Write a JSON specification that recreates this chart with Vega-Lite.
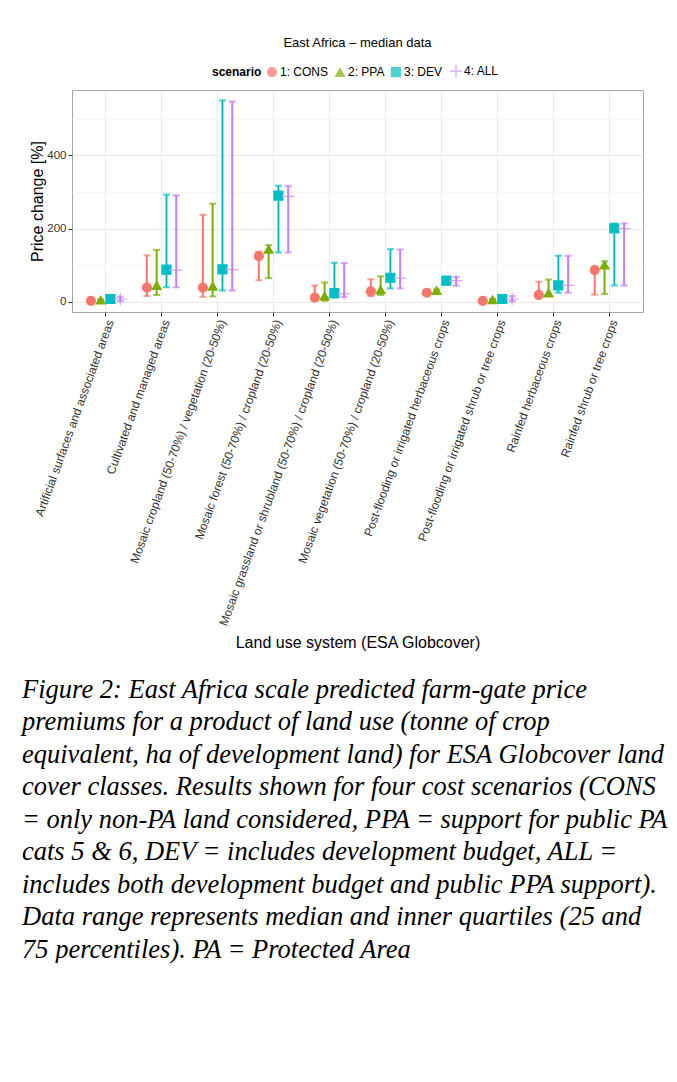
{
  "$schema": "https://vega.github.io/schema/vega-lite/v6.json",
  "padding": {"left": 22, "top": 36, "right": 0, "bottom": 0},
  "background": "white",
  "config": {
    "font": "Liberation Sans",
    "view": {"stroke": "#a6a6a6", "strokeWidth": 1}
  },
  "title": {
    "text": [
      "Figure 2: East Africa scale predicted farm-gate price",
      "premiums for a product of land use (tonne of crop",
      "equivalent, ha of development land) for ESA Globcover land",
      "cover classes. Results shown for four cost scenarios (CONS",
      "= only non-PA land considered, PPA = support for public PA",
      "cats 5 & 6, DEV = includes development budget, ALL =",
      "includes both development budget and public PPA support).",
      "Data range represents median and inner quartiles (25 and",
      "75 percentiles). PA = Protected Area"
    ],
    "orient": "bottom",
    "anchor": "start",
    "frame": "group",
    "font": "Liberation Serif",
    "fontStyle": "italic",
    "fontWeight": "normal",
    "fontSize": 26.5,
    "lineHeight": 32.5,
    "color": "#000000",
    "offset": 26,
    "dx": -50
  },
  "vconcat": [
    {
      "width": 571,
      "height": 222,
      "title": {
        "text": "East Africa – median data",
        "fontSize": 13,
        "fontWeight": "normal",
        "color": "#000000",
        "offset": 40
      },
      "data": {
        "values": [
          {"landuse": "Artificial surfaces and associated areas", "scenario": "1: CONS", "median": 3, "lo": 1, "hi": 5},
          {"landuse": "Artificial surfaces and associated areas", "scenario": "2: PPA", "median": 5, "lo": 2, "hi": 7},
          {"landuse": "Artificial surfaces and associated areas", "scenario": "3: DEV", "median": 8, "lo": 4, "hi": 12},
          {"landuse": "Artificial surfaces and associated areas", "scenario": "4: ALL", "median": 8, "lo": 2, "hi": 14},
          {"landuse": "Cultivated and managed areas", "scenario": "1: CONS", "median": 39, "lo": 16, "hi": 127},
          {"landuse": "Cultivated and managed areas", "scenario": "2: PPA", "median": 45, "lo": 19, "hi": 142},
          {"landuse": "Cultivated and managed areas", "scenario": "3: DEV", "median": 88, "lo": 40, "hi": 293},
          {"landuse": "Cultivated and managed areas", "scenario": "4: ALL", "median": 87, "lo": 40, "hi": 291},
          {"landuse": "Mosaic cropland (50-70%) / vegetation (20-50%)", "scenario": "1: CONS", "median": 39, "lo": 14, "hi": 238},
          {"landuse": "Mosaic cropland (50-70%) / vegetation (20-50%)", "scenario": "2: PPA", "median": 43, "lo": 15, "hi": 268},
          {"landuse": "Mosaic cropland (50-70%) / vegetation (20-50%)", "scenario": "3: DEV", "median": 89, "lo": 31, "hi": 550},
          {"landuse": "Mosaic cropland (50-70%) / vegetation (20-50%)", "scenario": "4: ALL", "median": 88, "lo": 31, "hi": 547},
          {"landuse": "Mosaic forest (50-70%) / cropland (20-50%)", "scenario": "1: CONS", "median": 125, "lo": 59, "hi": 137},
          {"landuse": "Mosaic forest (50-70%) / cropland (20-50%)", "scenario": "2: PPA", "median": 144, "lo": 65, "hi": 155},
          {"landuse": "Mosaic forest (50-70%) / cropland (20-50%)", "scenario": "3: DEV", "median": 290, "lo": 135, "hi": 317},
          {"landuse": "Mosaic forest (50-70%) / cropland (20-50%)", "scenario": "4: ALL", "median": 288, "lo": 135, "hi": 316},
          {"landuse": "Mosaic grassland or shrubland (50-70%) / cropland (20-50%)", "scenario": "1: CONS", "median": 12, "lo": 3, "hi": 45},
          {"landuse": "Mosaic grassland or shrubland (50-70%) / cropland (20-50%)", "scenario": "2: PPA", "median": 16, "lo": 3, "hi": 53},
          {"landuse": "Mosaic grassland or shrubland (50-70%) / cropland (20-50%)", "scenario": "3: DEV", "median": 24, "lo": 12, "hi": 107},
          {"landuse": "Mosaic grassland or shrubland (50-70%) / cropland (20-50%)", "scenario": "4: ALL", "median": 22, "lo": 14, "hi": 106},
          {"landuse": "Mosaic vegetation (50-70%) / cropland (20-50%)", "scenario": "1: CONS", "median": 29, "lo": 16, "hi": 62},
          {"landuse": "Mosaic vegetation (50-70%) / cropland (20-50%)", "scenario": "2: PPA", "median": 33, "lo": 19, "hi": 70},
          {"landuse": "Mosaic vegetation (50-70%) / cropland (20-50%)", "scenario": "3: DEV", "median": 66, "lo": 37, "hi": 144},
          {"landuse": "Mosaic vegetation (50-70%) / cropland (20-50%)", "scenario": "4: ALL", "median": 65, "lo": 37, "hi": 143},
          {"landuse": "Post-flooding or irrigated herbaceous crops", "scenario": "1: CONS", "median": 25, "lo": 22, "hi": 28},
          {"landuse": "Post-flooding or irrigated herbaceous crops", "scenario": "2: PPA", "median": 31, "lo": 28, "hi": 34},
          {"landuse": "Post-flooding or irrigated herbaceous crops", "scenario": "3: DEV", "median": 58, "lo": 48, "hi": 66},
          {"landuse": "Post-flooding or irrigated herbaceous crops", "scenario": "4: ALL", "median": 58, "lo": 44, "hi": 68},
          {"landuse": "Post-flooding or irrigated shrub or tree crops", "scenario": "1: CONS", "median": 3, "lo": 1, "hi": 5},
          {"landuse": "Post-flooding or irrigated shrub or tree crops", "scenario": "2: PPA", "median": 6, "lo": 3, "hi": 8},
          {"landuse": "Post-flooding or irrigated shrub or tree crops", "scenario": "3: DEV", "median": 8, "lo": 5, "hi": 11},
          {"landuse": "Post-flooding or irrigated shrub or tree crops", "scenario": "4: ALL", "median": 8, "lo": 2, "hi": 16},
          {"landuse": "Rainfed herbaceous crops", "scenario": "1: CONS", "median": 19, "lo": 10, "hi": 55},
          {"landuse": "Rainfed herbaceous crops", "scenario": "2: PPA", "median": 25, "lo": 15, "hi": 61},
          {"landuse": "Rainfed herbaceous crops", "scenario": "3: DEV", "median": 45, "lo": 25, "hi": 126},
          {"landuse": "Rainfed herbaceous crops", "scenario": "4: ALL", "median": 45, "lo": 25, "hi": 126},
          {"landuse": "Rainfed shrub or tree crops", "scenario": "1: CONS", "median": 87, "lo": 20, "hi": 90},
          {"landuse": "Rainfed shrub or tree crops", "scenario": "2: PPA", "median": 101, "lo": 22, "hi": 111},
          {"landuse": "Rainfed shrub or tree crops", "scenario": "3: DEV", "median": 201, "lo": 45, "hi": 214},
          {"landuse": "Rainfed shrub or tree crops", "scenario": "4: ALL", "median": 200, "lo": 45, "hi": 214}
        ]
      },
      "encoding": {
        "x": {
          "field": "landuse",
          "type": "nominal",
          "sort": null,
          "title": "Land use system (ESA Globcover)",
          "scale": {"paddingInner": 0.3, "paddingOuter": 0.25},
          "axis": {
            "domain": false,
            "labelAngle": -70,
            "labelAlign": "right",
            "labelBaseline": "top",
            "labelFontSize": 12,
            "labelColor": "#333333",
            "labelLimit": 500,
            "labelPadding": 2,
            "tickSize": 4,
            "tickColor": "#333333",
            "grid": true,
            "gridColor": "#ebebeb",
            "bandPosition": 0.5,
            "titleFontSize": 16,
            "titleFontWeight": "normal",
            "titleColor": "#000000",
            "titleBaseline": "middle",
            "titleY": 330
          }
        },
        "xOffset": {"field": "scenario", "type": "nominal", "scale": {"paddingInner": 0, "paddingOuter": 0}}
      },
      "resolve": {"axis": {"y": "independent"}},
      "layer": [
        {
          "mark": {"type": "point", "filled": true, "opacity": 1, "size": 81, "strokeWidth": 1.2},
          "encoding": {
            "y": {"field": "median", "type": "quantitative", "axis": null,
              "scale": {"domain": [-27.5, 578.5], "nice": false, "zero": false}},
            "color": {
              "field": "scenario",
              "type": "nominal",
              "title": "scenario",
              "scale": {"domain": ["1: CONS", "2: PPA", "3: DEV", "4: ALL"], "range": ["#F8766D", "#7CAE00", "#00BFC4", "#C77CFF"]},
              "legend": {
                "orient": "none",
                "legendX": 140,
                "legendY": -25,
                "direction": "horizontal",
                "titleOrient": "left",
                "titleFontSize": 12,
                "titleFontWeight": "bold",
                "titleColor": "#000000",
                "titlePadding": 4,
                "labelFontSize": 12,
                "labelColor": "#000000",
                "labelOffset": 2,
                "symbolSize": 81,
                "symbolStrokeWidth": 1.2,
                "symbolOpacity": 1,
                "columnPadding": 4
              }
            },
            "stroke": {
              "field": "scenario",
              "type": "nominal",
              "title": "scenario",
              "scale": {"domain": ["1: CONS", "2: PPA", "3: DEV", "4: ALL"], "range": ["#F8766D", "#7CAE00", "#00BFC4", "#D6A6FF"]}
            },
            "shape": {
              "field": "scenario",
              "type": "nominal",
              "title": "scenario",
              "scale": {"domain": ["1: CONS", "2: PPA", "3: DEV", "4: ALL"], "range": ["circle", "triangle-up", "square", "M-1.4,0L1.4,0M0,-1.4L0,1.4"]}
            }
          }
        },
        {
          "mark": {"type": "rule", "strokeWidth": 2},
          "encoding": {
            "y": {
              "field": "lo",
              "type": "quantitative",
              "title": "Price change [%]",
              "axis": {
                "orient": "left",
                "values": [0, 200, 400],
                "domain": false,
                "grid": true,
                "gridColor": "#ebebeb",
                "tickSize": 4,
                "tickColor": "#333333",
                "labelFontSize": 11.5,
                "labelColor": "#333333",
                "labelPadding": 2,
                "titleFontSize": 16,
                "titleFontWeight": "normal",
                "titleColor": "#000000",
                "titlePadding": 1
              }
            },
            "y2": {"field": "hi"},
            "color": {"field": "scenario", "type": "nominal"}
          }
        },
        {
          "mark": {"type": "tick", "thickness": 2, "size": 7},
          "encoding": {
            "y": {
              "field": "lo",
              "type": "quantitative",
              "axis": {
                "orient": "right",
                "values": [100, 300, 500],
                "domain": false,
                "ticks": false,
                "labels": false,
                "title": null,
                "grid": true,
                "gridColor": "#f6f6f6"
              }
            },
            "color": {"field": "scenario", "type": "nominal"}
          }
        },
        {
          "mark": {"type": "tick", "thickness": 2, "size": 7},
          "encoding": {
            "y": {"field": "hi", "type": "quantitative", "axis": null},
            "color": {"field": "scenario", "type": "nominal"}
          }
        }
      ]
    }
  ]
}
